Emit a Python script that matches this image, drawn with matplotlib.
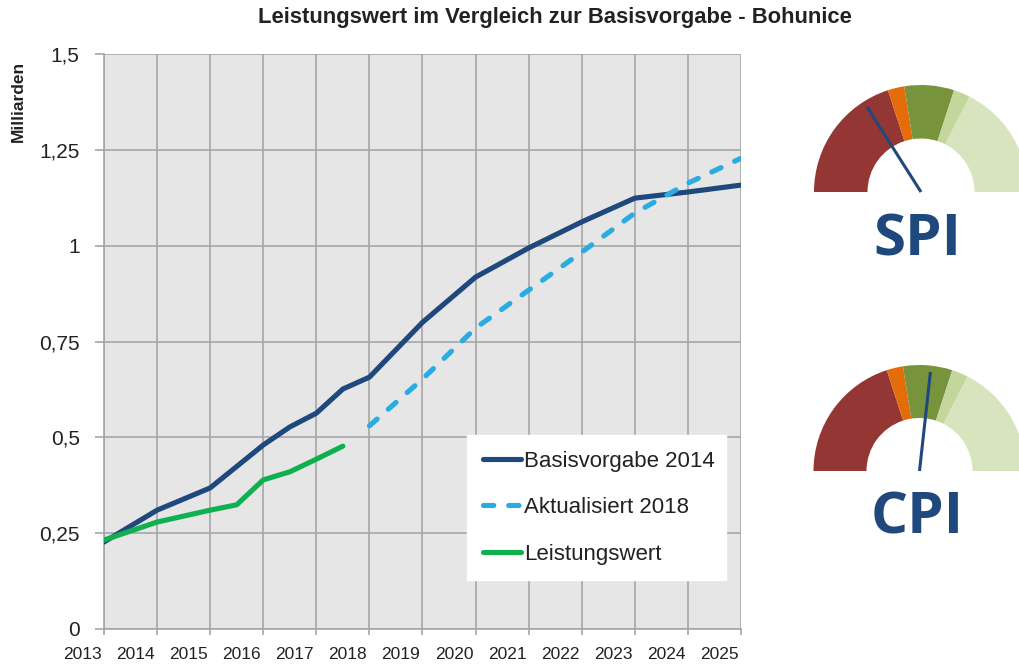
import numpy as np
import matplotlib
matplotlib.use("Agg")
import matplotlib.pyplot as plt
from matplotlib.patches import Wedge
from matplotlib.transforms import ScaledTranslation

plt.rcParams['font.family'] = ['Open Sans', 'DejaVu Sans']

# --- data ---
years = list(range(2013, 2026))

basis_x = [2013, 2014, 2015, 2016, 2016.5, 2017, 2017.5, 2018, 2019, 2020,
           2021, 2022, 2023, 2024, 2025]
basis_y = [0.227, 0.31, 0.368, 0.48, 0.527, 0.563, 0.626, 0.657, 0.80, 0.918,
           0.994, 1.062, 1.124, 1.14, 1.158]

akt_x = [2018, 2019, 2020, 2021, 2022, 2023, 2024, 2025]
akt_y = [0.53, 0.652, 0.785, 0.884, 0.983, 1.085, 1.163, 1.228]

leist_x = [2013, 2014, 2015, 2015.5, 2016, 2016.5, 2017, 2017.5]
leist_y = [0.232, 0.279, 0.31, 0.324, 0.389, 0.41, 0.443, 0.477]

yticks = [0, 0.25, 0.5, 0.75, 1, 1.25, 1.5]
ytick_labels = ['0', '0,25', '0,5', '0,75', '1', '1,25', '1,5']

# gauges: scale 0..2 over the half circle
gauge_bounds = [0, 0.8, 0.9, 1.2, 1.3, 2.0]
gauge_colors = ['#943634', '#E46C0A', '#77933C', '#C3D69B', '#D7E4BD']
spi_value = 0.64
cpi_value = 1.07

DARK = '#1F497D'
LIGHT = '#2AACE2'
GREEN = '#0FB04F'
GRID = '#A6A6A6'

W, H = 1019, 666
fig = plt.figure(figsize=(W / 100, H / 100), dpi=100)
ax = fig.add_axes([104 / W, 1 - 629 / H, (741 - 104) / W, (629 - 54) / H])
ax.set_facecolor('#E6E6E6')

ax.plot(basis_x, basis_y, color=DARK, lw=3.7, solid_capstyle='round',
        label='Basisvorgabe 2014', zorder=3)
l2, = ax.plot(akt_x, akt_y, color=LIGHT, lw=3.7, dash_capstyle='round',
              label='Aktualisiert 2018', zorder=3)
l2.set_dashes((2.0, 2.9))
ax.plot(leist_x, leist_y, color=GREEN, lw=3.7, solid_capstyle='round',
        label='Leistungswert', zorder=3)

ax.set_xticks(years)
ax.set_xticklabels([str(y) for y in years], fontsize=12.5, color='#222222',
                   family=['Liberation Sans'])
ax.tick_params(axis='x', length=4, color=GRID, width=1.2, pad=9)
# labels sit left of the gridlines, as in the original
shift = ScaledTranslation(-21.5 / 100, 0, fig.dpi_scale_trans)
for lab in ax.get_xticklabels():
    lab.set_transform(lab.get_transform() + shift)
ax.set_yticks(yticks)
ax.set_yticklabels(ytick_labels, fontsize=15, color='#222222',
                   family=['Liberation Sans'])
ax.tick_params(axis='y', length=6.5, color=GRID, width=1.2, pad=11)
ax.set_xlim(2013, 2025)
ax.set_ylim(0, 1.5)
ax.grid(True, color=GRID, lw=1.2)
ax.set_axisbelow(True)
for s in ['top', 'right']:
    ax.spines[s].set_visible(False)
for s in ['left', 'bottom']:
    ax.spines[s].set_color(GRID)
    ax.spines[s].set_linewidth(1.2)

leg = ax.legend(loc='upper left', bbox_to_anchor=((467 - 104) / 637, (629 - 576) / 575,
                                                  (726 - 467) / 637, (576 - 435) / 575),
                mode='expand', frameon=True, fancybox=False,
                handlelength=1.75, handletextpad=0.1, labelspacing=1.15,
                borderpad=0.7, borderaxespad=0,
                prop={'family': ['Liberation Sans'], 'size': 16})
leg.get_frame().set_facecolor('white')
leg.get_frame().set_edgecolor('white')
leg.get_frame().set_alpha(1)
for t in leg.get_texts():
    t.set_color('#222222')

fig.text(555 / W, 1 - 18 / H, 'Leistungswert im Vergleich zur Basisvorgabe - Bohunice',
         ha='center', va='center', fontsize=15.8, fontweight='bold', color='#222222',
         family=['Liberation Sans'])
fig.text(18 / W, 1 - 101 / H, 'Milliarden', rotation=90, ha='center', va='center',
         fontsize=12.5, fontweight='bold', color='#222222', family=['Liberation Sans'])


def gauge(cx, cy, r, value, label, label_y):
    gx = fig.add_axes([(cx - 1.05 * r) / W, (H - cy - 0.05 * r) / H,
                       2.1 * r / W, 1.1 * r / H])
    gx.set_xlim(-1.05, 1.05)
    gx.set_ylim(-0.05, 1.05)
    gx.axis('off')
    for lo, hi, c in zip(gauge_bounds[:-1], gauge_bounds[1:], gauge_colors):
        a1 = 180 - hi * 90
        a2 = 180 - lo * 90
        gx.add_patch(Wedge((0, 0), 1.0, a1, a2, width=0.5, facecolor=c,
                           edgecolor='none'))
    ang = np.deg2rad(180 - value * 90)
    gx.plot([0, 0.94 * np.cos(ang)], [0, 0.94 * np.sin(ang)], color=DARK, lw=2.2,
            solid_capstyle='butt')
    fig.text(917 / W, 1 - label_y / H, label, ha='center', va='center',
             fontsize=42, fontweight='bold', color=DARK, family=['Open Sans'])


gauge(921, 192, 107, spi_value, 'SPI', 240)
gauge(919.5, 471, 106, cpi_value, 'CPI', 519)

fig.savefig('out.png', dpi=100)
